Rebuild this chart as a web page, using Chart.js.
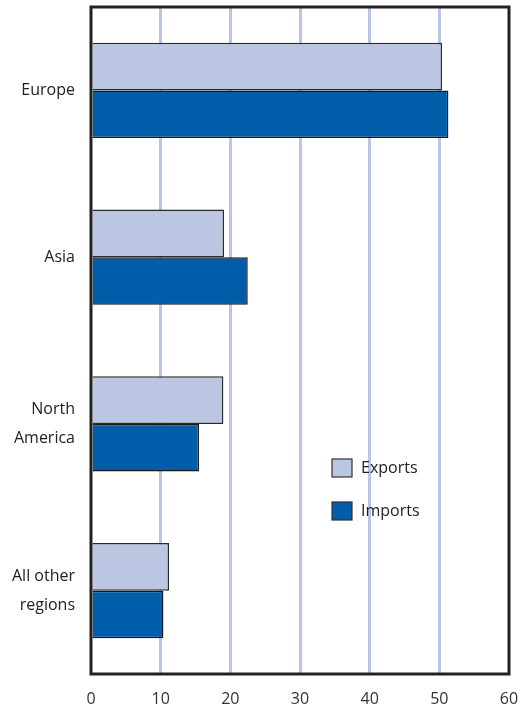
<!DOCTYPE html>
<html>
<head>
<meta charset="utf-8">
<script src="https://cdn.jsdelivr.net/npm/chart.js@4"></script>
<style>
  html, body { margin: 0; padding: 0; background: #fff; }
  #wrap { width: 530px; height: 706px; }
</style>
</head>
<body>
<div id="wrap"><canvas id="chart" width="530" height="706"></canvas></div>
<script>
// regions, top to bottom
const regions = [["Europe"], ["Asia"], ["North", "America"], ["All other", "regions"]];
const exportsData = [50.4, 19.1, 19.0, 11.2];
const importsData = [51.3, 22.5, 15.5, 10.4];
const xTicks = [0, 10, 20, 30, 40, 50, 60];

// legend inside the plot + black frame round the plot area
const frameAndLegend = {
  id: "frameAndLegend",
  afterDatasetsDraw(chart) {
    const ctx = chart.ctx;
    const a = chart.chartArea;
    ctx.save();
    chart.data.datasets.forEach((ds, i) => {
      const y = 459 + i * 43;
      ctx.fillStyle = ds.backgroundColor;
      ctx.strokeStyle = "#333";
      ctx.lineWidth = 1.2;
      ctx.fillRect(332, y, 20, 18);
      ctx.strokeRect(332, y, 20, 18);
      ctx.fillStyle = "#222";
      ctx.font = "16px 'Open Sans'";
      ctx.textBaseline = "middle";
      ctx.fillText(ds.label, 361, y + 9);
    });
    ctx.strokeStyle = "#222";
    ctx.lineWidth = 3;
    ctx.strokeRect(a.left, a.top, a.right - a.left, a.bottom - a.top);
    ctx.restore();
  }
};

new Chart(document.getElementById("chart"), {
  type: "bar",
  data: {
    labels: regions,
    datasets: [
      {
        label: "Exports",
        data: exportsData,
        backgroundColor: "#BBC6E3",
        borderColor: "#2a2a2a",
        borderWidth: 1.5,
      },
      {
        label: "Imports",
        data: importsData,
        backgroundColor: "#005DAA",
        borderColor: "#1a1a1a",
        borderWidth: 1.5,
      },
    ],
  },
  options: {
    indexAxis: "y",
    responsive: false,
    animation: false,
    layout: { padding: { left: 0, right: 21, top: 7, bottom: 0 } },
    datasets: { bar: { barPercentage: 1, categoryPercentage: 0.57 } },
    plugins: { legend: { display: false }, tooltip: { enabled: false } },
    scales: {
      x: {
        min: 0,
        max: 60,
        afterBuildTicks(scale) { scale.ticks = xTicks.map(v => ({ value: v })); },
        afterFit(scale) {
          scale.height = 32;
          scale.paddingLeft = 0;
          scale.paddingRight = 0;
        },
        grid: {
          color: (c) => (c.tick && (c.tick.value === 0 || c.tick.value === 60)) ? "rgba(0,0,0,0)" : "#B9C5E5",
          lineWidth: 3,
          drawTicks: false,
        },
        border: { display: false },
        ticks: { color: "#333", font: { family: "'Open Sans'", size: 16 }, padding: 16, maxRotation: 0 },
      },
      y: {
        afterFit(scale) {
          scale.width = 91;
          scale.paddingTop = 0;
          scale.paddingBottom = 0;
        },
        grid: { display: false, drawTicks: false },
        border: { display: false },
        ticks: { color: "#222", font: { family: "'Open Sans'", size: 16, lineHeight: 1.8 }, padding: 16 },
      },
    },
  },
  plugins: [frameAndLegend],
});
</script>
</body>
</html>
